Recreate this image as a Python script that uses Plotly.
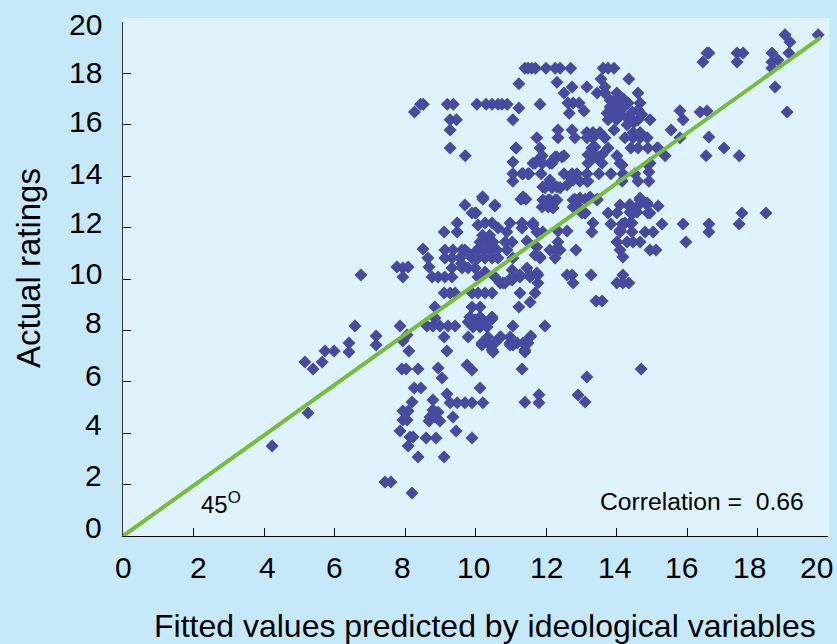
import plotly.graph_objects as go

fitted_values = [
 8.27,8.44,8.52,9.2,9.37,9.28,9.46,9.28,9.28,9.71,
 10.04,10.3,10.47,10.64,10.75,10.9,11.23,11.06,11.23,11.15,
 11.06,11.06,11.06,11.35,11.52,10.2,11.35,11.4,11.49,11.6,
 11.7,12.0,12.26,12.4,12.7,13.62,13.76,13.93,12.31,12.74,
 13.16,13.56,14.35,12.51,13.45,13.67,13.67,14.01,14.61,11.83,
 12.62,12.77,12.94,12.66,13.08,13.82,14.01,14.18,14.33,13.82,
 14.01,14.18,13.73,13.9,14.1,14.3,13.76,14.67,14.61,14.61,
 14.95,15.8,15.89,15.55,12.34,12.74,12.34,12.82,13.16,13.33,
 13.53,13.16,13.33,13.67,13.93,14.24,14.47,14.67,14.47,14.67,
 14.87,14.41,14.61,14.89,15.15,15.38,11.74,11.15,11.83,11.83,
 11.69,11.89,12.11,12.26,12.45,13.3,13.76,13.3,13.48,14.01,
 14.16,14.89,11.89,11.32,11.49,11.63,11.89,11.86,12.17,12.31,
 12.51,12.51,12.74,12.88,13.16,13.16,12.11,11.97,12.17,12.4,
 12.6,12.77,12.96,13.19,12.68,13.5,13.84,13.19,13.39,13.59,
 13.19,13.39,13.59,14.1,14.18,14.16,14.52,14.61,14.92,14.92,
 14.95,11.89,12.06,12.26,12.2,12.06,11.29,11.43,10.21,10.55,
 10.01,9.9,12.82,13.11,13.45,12.82,13.11,12.96,14.1,13.76,
 14.01,14.38,14.67,14.47,14.87,14.95,15.18,14.58,13.33,13.3,
 13.84,14.16,14.38,14.1,14.44,14.81,15.04,15.29,15.89,16.62,
 16.62,15.97,17.48,17.56,18.24,14.01,14.1,14.18,14.3,14.47,
 14.67,14.95,15.12,18.78,18.92,18.89,19.72,18.41,18.41,18.58,
 18.41,18.5,18.84,16.62,16.57,16.45,17.42,17.59,17.42,16.37,
 16.57,15.8,16.62,17.05,16.54,17.48,15.18,9.7,10.21,10.55,
 11.35,9.99,9.48,9.11,9.48,10.07,10.27,10.47,10.64,10.98,
 11.32,11.63,10.89,11.32,11.74,8.51,8.65,8.68,9.13,9.13,
 9.36,9.33,9.62,9.56,9.7,9.9,10.13,10.33,10.5,10.04,
 10.21,10.41,10.61,10.07,10.27,10.47,10.64,10.84,11.04,10.89,
 11.06,11.46,11.74,11.83,8.77,8.94,9.13,9.33,9.33,9.62,
 9.79,9.99,10.27,10.07,10.55,10.7,10.84,11.04,11.04,11.26,
 11.46,11.55,11.74,11.77,7.77,8.09,7.94,7.94,9.11,9.42,
 9.28,9.9,10.07,10.27,10.47,8.85,9.9,10.13,11.26,11.69,
 11.55,11.23,9.84,10.13,10.47,7.86,7.94,8.11,8.06,8.62,
 8.79,8.99,9.22,9.42,8.85,9.11,9.19,9.79,9.99,10.21,
 9.79,9.93,10.13,10.33,10.47,10.35,10.72,11.06,10.98,11.57,
 11.97,10.18,10.35,10.55,10.5,10.98,11.18,11.35,11.49,11.4,
 11.32,7.91,8.03,8.37,8.94,9.05,9.76,9.9,8.26,8.45,
 8.2,10.13,9.19,9.28,9.48,9.7,9.9,10.21,8.79,8.71,
 8.94,8.79,8.68,8.99,8.85,7.94,8.09,7.94,8.06,9.36,
 7.86,9.45,8.14,8.23,8.09,8.6,8.88,8.37,9.11,9.9,
 7.43,7.6,8.2,11.4,11.8,11.8,13.16,14.7,12.91,13.11,
 12.74,12.77,13.28,13.42,13.59,14.18,14.01,14.18,14.35,10.78,
 11.04,11.26,11.55,11.77,10.18,10.47,10.7,10.98,11.06,11.4,
 11.55,12.6,12.85,12.26,12.11,12.4,12.26,11.83,11.69,12.34,
 12.6,12.34,11.63,11.91,12.11,11.91,12.31,11.91,12.11,12.31,
 12.77,12.96,13.11,13.25,13.45,12.77,13.02,14.38,14.67,14.87,
 14.58,14.38,14.89,14.24,14.44,14.1,4.23,5.25,5.16,5.39,
 5.65,5.73,5.99,6.41,6.41,6.58,7.18,7.18,6.75,14.72,
 14.3,14.0,14.45,14.5,13.9,14.2,10.2,10.4,9.6,9.8,
]
actual_ratings = [
 16.5,16.8,16.8,16.8,16.8,16.2,16.2,15.8,15.1,14.8,
 16.8,16.8,16.8,16.8,16.8,16.8,16.65,16.2,17.6,15.1,
 14.55,14.1,13.8,14.1,14.1,13.2,13.2,18.2,18.2,18.2,
 18.2,18.2,18.2,18.2,18.2,18.2,18.2,18.2,17.66,17.47,
 17.47,17.78,17.78,17.24,17.24,17.47,17.24,17.24,17.24,16.8,
 16.85,16.85,16.85,16.45,16.54,16.96,16.96,16.96,16.85,16.7,
 16.7,16.65,16.45,16.45,16.45,16.26,16.2,16.85,16.58,16.2,
 16.2,16.55,16.2,15.8,15.8,15.8,15.5,15.5,15.7,15.7,
 15.7,15.5,15.5,15.5,15.8,15.5,15.7,15.7,15.5,15.5,
 15.5,15.1,15.1,15.1,15.1,14.8,15.5,15.1,15.1,14.7,
 14.5,14.5,14.5,14.75,14.75,15.1,15.1,14.7,14.75,14.8,
 14.44,14.44,14.8,14.1,14.1,14.5,14.5,14.1,14.5,14.75,
 14.8,14.1,14.1,14.1,14.1,13.8,13.85,13.55,13.55,13.55,
 13.66,13.85,13.8,13.8,13.97,14.1,14.1,14.83,15.14,14.83,
 14.5,14.75,14.5,14.5,14.1,13.8,14.1,13.8,14.16,13.8,
 14.5,12.8,13.07,13.07,12.76,12.8,13.1,13.1,13.1,12.84,
 12.57,12.57,13.1,13.1,13.1,12.8,12.57,12.76,12.88,12.57,
 12.57,12.8,13.15,12.57,12.88,12.57,12.84,12.8,12.18,11.83,
 12.14,12.14,12.18,11.83,11.83,11.83,11.83,12.14,12.14,12.14,
 11.83,11.44,12.14,12.57,12.57,11.44,11.13,10.86,11.44,11.44,
 11.44,11.13,11.13,19.5,19.22,18.79,19.5,18.79,18.44,18.52,
 18.2,17.47,16.5,18.79,18.79,18.44,18.79,18.79,18.44,16.5,
 16.54,15.5,15.53,15.1,14.8,14.8,15.1,12.88,13.15,12.88,
 13.15,12.57,12.18,11.83,11.83,12.1,12.18,12.18,11.98,12.18,
 12.18,12.18,11.83,11.98,11.83,11.17,10.82,10.47,11.13,10.82,
 11.13,10.82,11.13,10.82,11.13,10.82,11.44,11.44,11.44,11.13,
 11.13,11.13,11.13,10.82,10.82,10.82,10.82,11.44,11.44,11.13,
 10.82,11.48,11.25,10.82,10.08,10.08,10.08,10.08,10.43,10.43,
 10.43,10.43,10.27,10.08,10.08,9.84,9.84,10.35,10.08,10.08,
 10.43,10.08,10.23,9.84,10.47,10.47,10.08,10.43,9.46,9.46,
 9.46,9.46,9.46,9.46,9.46,8.91,8.91,8.91,9.46,9.46,
 9.1,8.91,8.52,8.52,8.52,8.17,7.59,7.2,7.82,8.17,
 8.17,8.17,8.17,8.17,8.48,7.74,7.2,8.33,8.4,8.4,
 7.74,8.13,8.13,8.13,8.44,7.74,7.74,8.17,7.74,7.78,
 8.17,7.51,7.51,7.51,7.16,7.51,7.51,7.51,7.51,7.16,
 6.5,6.5,6.5,6.5,6.54,6.15,6.65,6.46,5.76,5.76,
 5.21,5.76,5.53,5.18,5.18,5.18,5.18,5.18,5.29,4.63,
 4.82,4.9,4.47,4.47,4.63,4.86,4.86,4.51,4.51,4.63,
 4.09,4.09,3.85,3.85,3.5,3.81,3.81,3.07,3.07,3.81,
 2.1,2.1,1.67,5.2,5.5,5.18,6.19,6.5,5.49,5.21,
 10.16,9.84,10.16,9.14,9.14,10.16,9.84,9.84,9.84,9.84,
 9.96,10.16,10.16,10.16,7.43,7.24,7.74,7.43,7.43,7.24,
 7.74,10.16,11.13,11.13,11.13,11.13,10.82,10.86,10.93,11.44,
 11.87,11.87,12.1,11.83,13.74,13.58,13.58,13.07,13.07,13.07,
 13.07,13.15,12.57,13.19,13.07,12.8,12.57,12.9,13.07,12.96,
 12.6,12.6,12.57,12.18,12.18,11.9,3.5,4.79,6.77,6.5,
 6.77,7.2,7.2,7.51,7.16,8.17,7.78,7.43,10.16,16.4,
 16.0,16.2,16.5,16.1,16.9,17.0,11.7,11.7,10.6,11.0,
]
line_x = [0, 19.8]
line_y = [0, 19.4]
tick_values = [0, 2, 4, 6, 8, 10, 12, 14, 16, 18, 20]
tick_labels = ["0", "2", "4", "6", "8", "10", "12", "14", "16", "18", "20"]
# Where the reference's printed labels sit (they drift from their ticks)
x_label_at = [0, 2.13, 4.09, 6.01, 7.94, 9.93, 12.0, 13.93, 15.83, 17.76, 19.66]
y_label_at = [0.35, 2.37, 4.32, 6.26, 8.29, 10.23, 12.18, 14.12, 16.11, 18.05, 19.92]

FONT = "Liberation Sans, Arial, sans-serif"
INK = "#000000"

fig = go.Figure()
fig.add_trace(go.Scatter(x=fitted_values, y=actual_ratings, mode="markers",
                         marker=dict(symbol="diamond", size=10, color="#474A9E"),
                         cliponaxis=False, showlegend=False))
fig.add_trace(go.Scatter(x=line_x, y=line_y, mode="lines",
                         line=dict(color="#76BD3C", width=4), showlegend=False))

axis = dict(range=[0, 20], tickvals=tick_values, ticks="inside", ticklen=8, tickwidth=1,
            tickcolor="#111111", showline=True, linewidth=1,
            showgrid=False, zeroline=False, showticklabels=False)
fig.update_xaxes(**axis, linecolor="#000000")
fig.update_yaxes(**axis, linecolor="#333333")

fig.add_annotation(x=0.5135, y=-0.1742, xref="paper", yref="paper", showarrow=False,
                   xanchor="center", yanchor="middle",
                   text="Fitted values predicted by ideological variables",
                   font=dict(family=FONT, size=32, color=INK))
fig.add_annotation(x=-0.1348, y=0.5214, xref="paper", yref="paper", showarrow=False,
                   xanchor="center", yanchor="middle", textangle=-90,
                   text="Actual ratings",
                   font=dict(family=FONT, size=33, color=INK))

for pos, lab in zip(x_label_at, tick_labels):
    fig.add_annotation(x=pos, y=-0.0622, xref="x", yref="paper", showarrow=False, text=lab,
                       xanchor="center", yanchor="middle",
                       font=dict(family=FONT, size=30, color=INK))
for pos, lab in zip(y_label_at, tick_labels):
    fig.add_annotation(x=0, y=pos, xref="paper", yref="y", showarrow=False, text=lab,
                       xanchor="right", yanchor="middle", xshift=-19,
                       font=dict(family=FONT, size=30, color=INK))

fig.add_annotation(x=2.17, y=1.3, xref="x", yref="y", xanchor="left", showarrow=False,
                   text="45<sup>O</sup>", font=dict(family=FONT, size=24, color=INK))
fig.add_annotation(x=19.38, y=1.33, xref="x", yref="y", xanchor="right", showarrow=False,
                   text="Correlation =  0.66", font=dict(family=FONT, size=24.7, color=INK))

fig.add_shape(type="rect", xref="paper", yref="paper", x0=-0.002, x1=1.002, y0=-0.002, y1=1.008,
              fillcolor="#DFF3FD", line=dict(width=0), layer="below")

fig.update_layout(width=837, height=644, autosize=False,
                  margin=dict(l=123, r=9, t=22, b=108, pad=0),
                  paper_bgcolor="#C6E9FA", plot_bgcolor="#DFF3FD",
                  showlegend=False)
fig.write_html("out.html", config=dict(displayModeBar=False),
               post_script="document.body.style.margin='0';document.body.style.overflow='hidden';"
                           "document.documentElement.style.background='#C6E9FA';")
